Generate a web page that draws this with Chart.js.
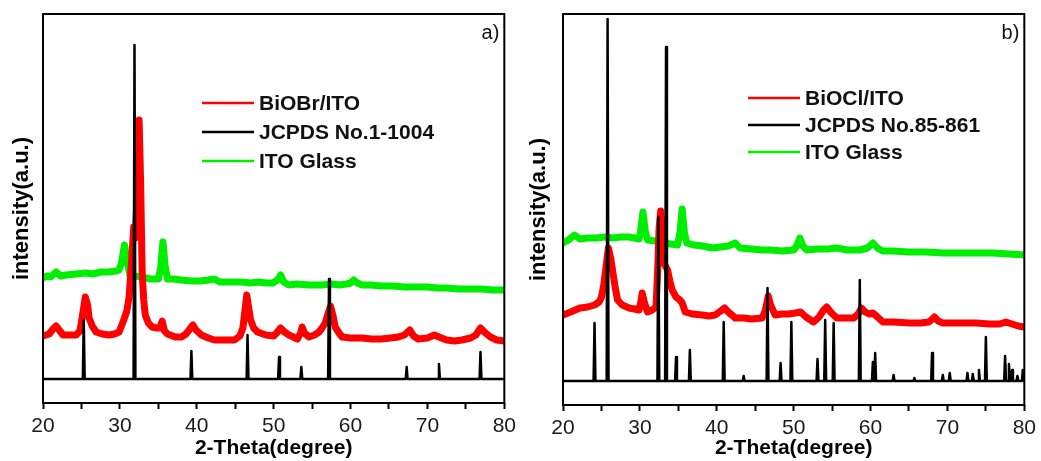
<!DOCTYPE html>
<html>
<head>
<meta charset="utf-8">
<script src="https://cdn.jsdelivr.net/npm/chart.js@4/dist/chart.umd.min.js"></script>
<style>
  body { margin: 0; background: #fff; }
  canvas { position: absolute; top: 0; }
</style>
</head>
<body>
<canvas id="panelA" width="521" height="461" style="left:0"></canvas>
<canvas id="panelB" width="521" height="461" style="left:520px"></canvas>
<script>
const FONT = '"Liberation Sans", Arial, sans-serif';

// ---- panel a) BiOBr ----
const aRedX = [20, 20.8, 21.3, 21.7, 22.2, 22.6, 23.5, 24.3, 24.8, 25.1, 25.5, 25.8, 26.0, 26.4, 26.9, 27.7, 28.6, 29.3, 29.9, 30.5, 30.9, 31.2, 31.5, 31.8, 32.0, 32.2, 32.5, 32.7, 32.9, 33.1, 33.3, 33.7, 34.2, 34.8, 35.2, 35.5, 35.8, 36.2, 37.2, 38.0, 38.6, 39.1, 39.5, 39.9, 40.6, 41.5, 42.3, 43.5, 44.9, 45.6, 46.0, 46.3, 46.5, 46.7, 47.0, 47.4, 47.9, 49.0, 50.0, 50.5, 50.9, 51.4, 52.0, 53.1, 53.5, 53.7, 54.0, 54.6, 55.3, 55.9, 56.3, 56.7, 57.1, 57.4, 57.7, 58.0, 58.5, 58.9, 60.0, 61.5, 62.7, 64.0, 65.2, 66.2, 67.0, 67.7, 68.2, 68.8, 70.0, 70.9, 71.5, 72.5, 73.5, 74.5, 75.6, 76.3, 76.9, 77.4, 78.2, 79.0, 80];
const aRedY = [67, 69, 74, 77, 72, 68, 68, 68, 72, 86, 106, 98, 85, 77, 71, 69, 68, 69, 71, 83, 92, 106, 140, 176, 165, 200, 283, 220, 130, 103, 88, 80, 76, 75, 75, 82, 72, 69, 66, 66, 69, 74, 78, 73, 68, 65, 63, 63, 63, 67, 75, 95, 108, 98, 83, 75, 71, 68, 67, 71, 75, 71, 68, 64, 70, 76, 70, 66, 68, 71, 75, 80, 90, 97, 88, 76, 70, 66, 65, 65, 64, 64, 65, 66, 68, 73, 67, 64, 65, 68, 66, 63, 62, 63, 65, 68, 75, 71, 66, 63, 62];

const aGreenX = [20, 20.5, 21.0, 21.7, 22.3, 23, 24.3, 25.5, 26.5, 27.5, 28.6, 29.5, 29.9, 30.2, 30.6, 31.0, 31.3, 32.0, 32.9, 34.0, 35.0, 35.3, 35.6, 35.9, 36.2, 37.0, 38.0, 39.3, 40.5, 41.5, 42.3, 43.0, 44.5, 45.8, 47.0, 48.0, 49.0, 49.9, 50.5, 50.9, 51.3, 52.0, 53.0, 54.5, 56.3, 57.5, 58.5, 59.5, 60.0, 60.4, 60.9, 61.5, 62.7, 64.0, 65.5, 67.0, 68.5, 70.0, 71.3, 72.5, 74.0, 75.6, 77.0, 78.5, 80];
const aGreenY = [125, 127, 126, 131, 127, 128, 129, 130, 129, 131, 131, 132, 133, 140, 158, 140, 128, 127, 126, 124, 124, 135, 161, 136, 124, 124, 123, 122, 122, 123, 124, 121, 121, 121, 120, 121, 120, 120, 123, 128, 121, 118, 119, 118, 118, 119, 118, 119, 120, 123, 120, 118, 118, 117, 117, 116, 116, 116, 115, 115, 114, 114, 114, 113, 113];

const aRefBase = 24;
const aRefPeaks = [25.3, 31.9, 39.3, 46.6, 50.7, 53.6, 57.2, 67.3, 71.5, 76.9];
const aRefHeights = [83, 358, 52, 68, 46, 36, 124, 36, 39, 51];

// ---- panel b) BiOCl ----
const bRedX = [20, 21.0, 22.2, 23.2, 24.1, 24.7, 25.0, 25.3, 25.6, 25.9, 26.2, 26.5, 26.8, 27.1, 27.7, 28.6, 29.3, 29.9, 30.1, 30.3, 30.6, 31.0, 31.6, 32.1, 32.3, 32.5, 32.7, 32.9, 33.1, 33.4, 33.6, 33.9, 34.2, 34.7, 35.2, 35.5, 35.9, 36.8, 38.1, 39.0, 39.8, 40.5, 41.0, 41.5, 42.4, 43.5, 44.5, 45.9, 46.3, 46.7, 47.0, 47.6, 48.5, 49.4, 50.2, 50.9, 51.6, 52.6, 53.3, 53.9, 54.3, 54.8, 55.6, 56.6, 57.8, 58.4, 58.8, 59.3, 59.8, 60.3, 60.9, 61.6, 63.0, 65.1, 66.5, 67.6, 68.3, 68.8, 69.4, 71.5, 73.7, 75.5, 76.8, 77.6, 78.4, 79.2, 80];
const bRedY = [88, 91, 95, 96, 98, 101, 106, 118, 136, 155, 145, 130, 115, 103, 98, 95, 94, 93, 100, 110, 100, 91, 93, 96, 130, 175, 192, 170, 140, 136, 133, 122, 113, 106, 103, 100, 91, 89, 88, 87, 88, 92, 95, 91, 85, 85, 84, 85, 92, 107, 98, 88, 89, 89, 90, 91, 86, 81, 86, 93, 96, 91, 85, 85, 85, 89, 95, 91, 89, 90, 86, 81, 81, 80, 80, 81, 86, 82, 80, 80, 80, 79, 79, 81, 79, 77, 76];

const bGreenX = [20, 20.7, 21.5, 22.2, 23.2, 24.3, 25.5, 26.5, 27.5, 28.6, 29.3, 29.9, 30.1, 30.4, 30.7, 31.0, 32.0, 32.9, 34.0, 34.9, 35.2, 35.5, 35.8, 36.1, 37.0, 38.2, 39.4, 40.5, 41.5, 42.4, 43.0, 44.5, 45.9, 47.0, 48.5, 50.0, 50.4, 50.8, 51.2, 51.7, 53.0, 54.5, 55.6, 57.0, 58.6, 59.6, 60.3, 60.9, 61.6, 63.0, 65.0, 67.2, 69.5, 71.6, 73.5, 75.9, 78.0, 80];
const bGreenY = [160, 163, 168, 164, 165, 165, 166, 165, 166, 166, 165, 164, 172, 191, 172, 163, 162, 160, 159, 158, 170, 194, 170, 160, 158, 157, 155, 156, 157, 160, 155, 154, 153, 153, 152, 153, 157, 165, 157, 153, 154, 154, 155, 153, 153, 155, 160, 155, 152, 152, 151, 151, 150, 150, 150, 150, 149, 148];

const bRefBase = 22;
const bRefPeaks = [24.1, 25.8, 32.4, 33.4, 34.7, 36.5, 40.9, 43.5, 46.6, 48.3, 49.7, 53.1, 54.1, 55.2, 58.6, 60.3, 60.6, 63.0, 65.7, 68.0, 69.4, 70.3, 72.6, 73.3, 74.1, 75.0, 77.5, 78.0, 78.4, 79.1, 79.8];
const bRefHeights = [80, 384, 186, 356, 46, 53, 81, 27, 115, 40, 81, 44, 83, 80, 123, 41, 50, 28, 25, 50, 28, 30, 30, 29, 33, 66, 47, 39, 33, 27, 33];

const xTicks = [20, 30, 40, 50, 60, 70, 80];

function toPoints(xs, ys) {
  return xs.map((x, i) => ({ x: x, y: ys[i] }));
}

// stick pattern: flat baseline with a narrow spike at each reference line
function sticks(peaks, heights, base) {
  const pts = [{ x: 20, y: base }];
  peaks.forEach((p, i) => {
    pts.push({ x: p - 0.12, y: base }, { x: p, y: heights[i] }, { x: p + 0.12, y: base });
  });
  pts.push({ x: 80, y: base });
  return pts;
}

const framePlugin = {
  id: 'framePlugin',
  afterDraw(chart, args, opts) {
    const { ctx, chartArea: a } = chart;
    ctx.save();
    ctx.strokeStyle = '#000';
    ctx.lineWidth = 2;
    ctx.strokeRect(a.left, a.top, a.right - a.left, a.bottom - a.top);

    ctx.font = 'bold 21px ' + FONT;
    ctx.textBaseline = 'middle';
    chart.data.datasets.forEach((ds, i) => {
      const y = opts.legendY + i * opts.legendDy;
      ctx.strokeStyle = ds.borderColor;
      ctx.lineWidth = 2.5;
      ctx.beginPath();
      ctx.moveTo(opts.legendX, y);
      ctx.lineTo(opts.legendX + 52, y);
      ctx.stroke();
      ctx.fillStyle = '#111';
      ctx.fillText(ds.label, opts.legendX + 57, y + 1);
    });

    ctx.font = '20px ' + FONT;
    ctx.textAlign = 'right';
    ctx.textBaseline = 'alphabetic';
    ctx.fillStyle = '#111';
    ctx.fillText(opts.tag, a.right - 5, a.top + 25);
    ctx.restore();
  }
};

function makeChart(id, cfg) {
  new Chart(document.getElementById(id), {
    type: 'line',
    data: {
      datasets: [
        { label: cfg.redLabel, data: cfg.red, borderColor: '#ff0000', borderWidth: 7, order: 1 },
        { label: cfg.refLabel, data: cfg.ref, borderColor: '#000000', borderWidth: 2.5, order: 0 },
        { label: 'ITO Glass', data: cfg.green, borderColor: '#00ee00', borderWidth: 7, order: 2 }
      ]
    },
    options: {
      responsive: false,
      animation: false,
      events: [],
      elements: {
        point: { radius: 0 },
        line: { tension: 0, borderJoinStyle: 'round', borderCapStyle: 'round' }
      },
      layout: { padding: { top: 14, right: cfg.padRight, left: 0, bottom: 0 } },
      plugins: {
        legend: { display: false },
        tooltip: { enabled: false },
        framePlugin: { legendX: cfg.legendX, legendY: cfg.legendY, legendDy: cfg.legendDy, tag: cfg.tag }
      },
      scales: {
        x: {
          type: 'linear',
          min: 20,
          max: 80,
          afterFit(scale) { scale.height = cfg.xHeight; },
          border: { display: false },
          grid: { display: true, drawOnChartArea: false, drawTicks: true, tickLength: 6, tickWidth: 2, tickColor: '#000' },
          ticks: {
            stepSize: 5,
            padding: 5,
            color: '#1a1a1a',
            font: { family: FONT, size: 21 },
            maxRotation: 0,
            autoSkip: false,
            callback: v => xTicks.includes(v) ? String(v) : ''
          },
          title: {
            display: true,
            text: '2-Theta(degree)',
            color: '#000',
            font: { family: FONT, size: 21, weight: 'bold' },
            padding: { top: 0, bottom: 0 }
          }
        },
        y: {
          min: cfg.yMin,
          max: 389,
          afterFit(scale) { scale.width = 43; },
          border: { display: false },
          grid: { display: false },
          ticks: { display: false },
          title: {
            display: true,
            text: 'intensity(a.u.)',
            color: '#000',
            font: { family: FONT, size: 22, weight: 'bold' },
            padding: { top: cfg.yTitlePad, bottom: 0 }
          }
        }
      }
    },
    plugins: [framePlugin]
  });
}

makeChart('panelA', {
  red: toPoints(aRedX, aRedY),
  green: toPoints(aGreenX, aGreenY),
  ref: sticks(aRefPeaks, aRefHeights, aRefBase),
  redLabel: 'BiOBr/ITO',
  refLabel: 'JCPDS No.1-1004',
  tag: 'a)',
  padRight: 12,
  xHeight: 58,
  yMin: 0,
  yTitlePad: 9,
  legendX: 202,
  legendY: 103,
  legendDy: 29
});

makeChart('panelB', {
  red: toPoints(bRedX, bRedY),
  green: toPoints(bGreenX, bGreenY),
  ref: sticks(bRefPeaks, bRefHeights, bRefBase),
  redLabel: 'BiOCl/ITO',
  refLabel: 'JCPDS No.85-861',
  tag: 'b)',
  padRight: 14,
  xHeight: 56,
  yMin: -2,
  yTitlePad: 6,
  legendX: 228,
  legendY: 98,
  legendDy: 27
});
</script>
</body>
</html>
